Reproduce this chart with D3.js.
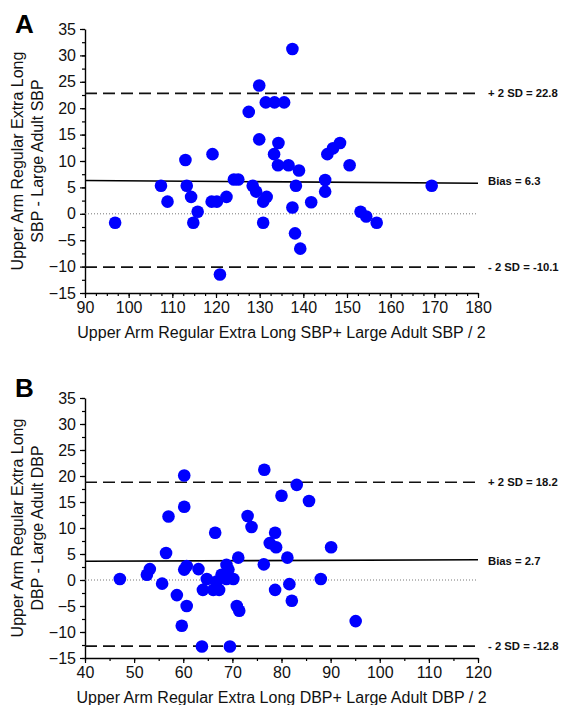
<!DOCTYPE html>
<html><head><meta charset="utf-8">
<script src="https://cdn.jsdelivr.net/npm/d3@7"></script>
<style>
body{margin:0;background:#fff}
svg{display:block}
text{font-family:"Liberation Sans",Arial,sans-serif;fill:#111}
</style></head><body>
<svg id="chart" width="564" height="705"></svg>
<script>
// ---------- DATA ----------
const panelLetters = ["A", "B"];

// Panel A: SBP
const aMean = [96.9,107.4,108.9,113.0,113.3,114.3,114.8,115.8,119.2,119.0,120.2,120.9,122.4,124.1,125.1,127.5,128.4,129.2,129.9,129.9,130.8,131.6,130.8,131.4,133.4,135.6,133.3,134.3,134.2,136.6,137.5,137.5,138.3,139.0,138.1,139.3,141.8,145.0,145.0,145.5,146.8,148.4,150.6,153.1,154.4,156.8,169.4];
const aDiff = [-1.7,5.3,2.3,10.2,5.3,3.2,-1.7,0.4,11.3,2.3,2.3,-11.5,3.2,6.5,6.5,19.3,5.3,4.2,24.3,14.1,2.3,3.2,-1.7,21.1,21.1,21.1,11.3,13.4,9.2,9.2,31.2,1.2,5.3,8.2,-3.7,-6.6,2.2,6.4,4.2,11.3,12.4,13.4,9.2,0.4,-0.5,-1.7,5.3];
const aXTicks = [90,100,110,120,130,140,150,160,170,180];
const aYTicks = [35,30,25,20,15,10,5,0,-5,-10,-15];
const aLimits = [22.8, -10.1];
const aBias = [6.3, 5.8];
const aLineLabels = ["+ 2 SD = 22.8", "Bias = 6.3", "- 2 SD = -10.1"];
const aYTitle = ["Upper Arm Regular Extra Long", "SBP - Large Adult SBP"];
const aXTitle = "Upper Arm Regular Extra Long SBP+ Large Adult SBP / 2";

// Panel B: DBP
const bMean = [47.1,52.6,53.2,55.7,56.5,57.0,58.7,59.7,60.2,60.2,60.2,60.7,60.7,63.1,63.8,64.0,64.8,66.1,67.3,66.5,66.8,67.8,68.8,68.8,69.2,69.5,70.2,70.9,71.4,71.2,73.1,73.9,76.5,76.4,77.6,78.9,78.7,78.7,80.0,81.2,81.6,82.1,83.1,85.6,88.0,90.1,95.1];
const bDiff = [0.2,1.0,2.1,-0.7,5.2,12.2,-2.9,-8.8,20.1,14.1,2.0,2.7,-5.0,2.1,-12.8,-1.9,0.2,-1.9,-1.9,9.1,-0.3,1.0,2.9,0.2,2.0,-12.8,0.2,-5.0,-5.9,4.3,12.3,10.2,21.2,3.0,7.1,6.3,9.1,-1.9,16.2,4.3,-0.8,-4.0,18.3,15.2,0.2,6.3,-7.9];
const bXTicks = [40,50,60,70,80,90,100,110,120];
const bYTicks = [35,30,25,20,15,10,5,0,-5,-10,-15];
const bLimits = [18.8, -12.7];
const bBias = [3.6, 3.9];
const bLineLabels = ["+ 2 SD = 18.2", "Bias = 2.7", "- 2 SD = -12.8"];
const bYTitle = ["Upper Arm Regular Extra Long", "DBP - Large Adult DBP"];
const bXTitle = "Upper Arm Regular Extra Long DBP+ Large Adult DBP / 2";

// ---------- DRAW ----------
const svg = d3.select("#chart");
const FONT = '"Liberation Sans",Arial,sans-serif';

function drawPanel(o) {
  const g = svg.append("g");
  const x = d3.scaleLinear().domain(o.xDomain).range([o.left, o.right]);
  const y = d3.scaleLinear().domain([-15, 35]).range([o.bottom, o.top]);

  // panel letter
  g.append("text").attr("x", 15).attr("y", o.letterY)
    .attr("font-size", 26).attr("font-weight", "bold").style("fill", "#000")
    .text(o.letter);

  // minor ticks
  g.append("g").attr("transform", `translate(${o.left},0)`)
    .call(d3.axisLeft(y).tickValues(o.yMinor).tickSize(3).tickSizeOuter(0).tickFormat(""))
    .call(s => s.select(".domain").remove());
  g.append("g").attr("transform", `translate(0,${o.bottom})`)
    .call(d3.axisBottom(x).tickValues(o.xMinor).tickSize(3).tickSizeOuter(0).tickFormat(""))
    .call(s => s.select(".domain").remove());

  // major axes
  const ya = g.append("g").attr("transform", `translate(${o.left},0)`)
    .call(d3.axisLeft(y).tickValues(o.yTicks).tickSize(5).tickSizeOuter(0).tickPadding(4));
  const xa = g.append("g").attr("transform", `translate(0,${o.bottom})`)
    .call(d3.axisBottom(x).tickValues(o.xTicks).tickSize(5).tickSizeOuter(0).tickPadding(4));
  g.selectAll(".domain").attr("stroke", "#000").attr("stroke-width", 1.4);
  g.selectAll(".tick line").attr("stroke", "#000").attr("stroke-width", 1.2);
  [ya, xa].forEach(a => a.selectAll("text").attr("font-size", 16).attr("font-family", FONT).style("fill", "#111"));

  // zero line (dotted)
  g.append("line").attr("x1", x(o.xDomain[0])).attr("x2", x(o.xDomain[1]))
    .attr("y1", y(0)).attr("y2", y(0))
    .attr("stroke", "#777").attr("stroke-width", 1).attr("stroke-dasharray", "1,2");

  // limits (dashed)
  o.limits.forEach(v => {
    g.append("line").attr("x1", x(o.xDomain[0])).attr("x2", x(o.xDomain[1]))
      .attr("y1", y(v)).attr("y2", y(v))
      .attr("stroke", "#111").attr("stroke-width", 1.7).attr("stroke-dasharray", "12,6");
  });
  // bias line
  g.append("line").attr("x1", x(o.xDomain[0])).attr("x2", x(o.xDomain[1]))
    .attr("y1", y(o.bias[0])).attr("y2", y(o.bias[1]))
    .attr("stroke", "#000").attr("stroke-width", 1.6);

  // labels on the right
  const labelVals = [o.limits[0], o.bias[0], o.limits[1]];
  o.lineLabels.forEach((t, i) => {
    g.append("text").attr("x", o.right + 10).attr("y", y(labelVals[i]) + 4)
      .attr("font-size", 11.3).attr("font-weight", "bold").style("fill", "#111").text(t);
  });

  // points
  g.selectAll("circle.pt").data(o.mean.map((m, i) => [m, o.diff[i]])).join("circle")
    .attr("class", "pt").attr("cx", d => x(d[0])).attr("cy", d => y(d[1]))
    .attr("r", 6.3).attr("fill", "#0000ff");

  // y title
  const cy = (o.top + o.bottom) / 2;
  o.yTitle.forEach((t, i) => {
    g.append("text").attr("transform", `translate(${23 + i * 20},${cy}) rotate(-90)`)
      .attr("text-anchor", "middle").attr("font-size", 16).text(t);
  });
  // x title
  g.append("text").attr("x", (o.left + o.right) / 2).attr("y", o.bottom + 45)
    .attr("text-anchor", "middle").attr("font-size", 16).text(o.xTitle);
}

drawPanel({
  letter: panelLetters[0], letterY: 33,
  xDomain: [90, 180], left: 85, right: 478, top: 29, bottom: 293,
  xTicks: aXTicks, yTicks: aYTicks,
  xMinor: d3.range(90, 180.1, 2.5), yMinor: d3.range(-15, 35.1, 2.5),
  limits: aLimits, bias: aBias, lineLabels: aLineLabels,
  mean: aMean, diff: aDiff, yTitle: aYTitle, xTitle: aXTitle
});
drawPanel({
  letter: panelLetters[1], letterY: 397,
  xDomain: [40, 120], left: 85, right: 478, top: 398, bottom: 658,
  xTicks: bXTicks, yTicks: bYTicks,
  xMinor: d3.range(40, 120.1, 5), yMinor: d3.range(-15, 35.1, 2.5),
  limits: bLimits, bias: bBias, lineLabels: bLineLabels,
  mean: bMean, diff: bDiff, yTitle: bYTitle, xTitle: bXTitle
});
</script>
</body></html>
